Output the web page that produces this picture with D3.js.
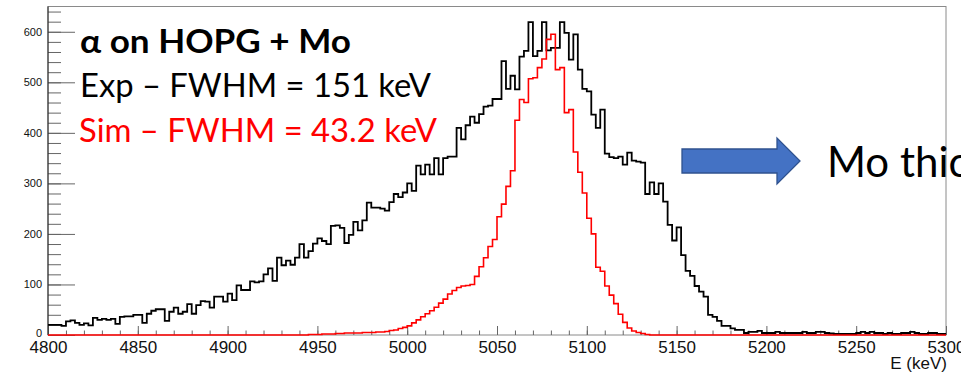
<!DOCTYPE html>
<html lang="en">
<head>
	<meta charset="UTF-8">
	<title>alpha on HOPG + Mo</title>
	<style>
		body { margin: 0; background: #fff; }
		svg { display: block; }
		.tick text { font-family: "Liberation Sans", Arial, sans-serif; fill: #111; }
	</style>
</head>
<body>

	<div id="viz-wrapper">
	</div>

	<script src="https://cdn.jsdelivr.net/npm/d3@7/dist/d3.min.js"></script>

	<script type="text/javascript">
    // histogram binning (keV)
    var eMin = 4800,
        eMax = 5300,
        binWidth = 2.5;

    // measured spectrum, counts per bin
    var expCounts = [
      20, 20, 20, 18, 27, 29, 24, 20, 23, 19,
      34, 30, 32, 30, 32, 22, 36, 37, 37, 40,
      40, 24, 42, 48, 51, 51, 28, 46, 54, 42,
      46, 61, 42, 59, 67, 66, 54, 76, 76, 66,
      82, 69, 98, 89, 89, 106, 104, 106, 120, 132,
      107, 153, 138, 147, 139, 153, 180, 153, 166, 181,
      191, 186, 180, 216, 217, 212, 182, 198, 224, 207,
      227, 262, 252, 252, 250, 246, 263, 279, 273, 282,
      300, 285, 335, 318, 337, 318, 350, 318, 350, 353,
      353, 410, 387, 415, 432, 420, 437, 452, 454, 467,
      467, 542, 487, 513, 486, 551, 562, 619, 552, 562,
      619, 563, 568, 568, 619, 598, 545, 595, 525, 487,
      482, 436, 410, 446, 359, 352, 350, 353, 337, 361,
      345, 343, 341, 279, 302, 279, 300, 264, 218, 187,
      213, 158, 127, 117, 97, 86, 76, 40, 36, 28,
      18, 18, 13, 10, 10, 4, 6, 6, 8, 4,
      4, 4, 6, 4, 4, 4, 4, 4, 6, 4,
      4, 6, 6, 4, 3, 2, 2, 2, 2, 2,
      4, 6, 4, 6, 4, 4, 2, 4, 2, 2,
      4, 4, 6, 4, 2, 2, 4, 4, 2, 2
    ];

    // simulated spectrum, counts per bin
    var simCounts = [
      0, 0, 0, 0, 0, 0, 0, 0, 0, 0,
      0, 0, 0, 0, 0, 0, 0, 0, 0, 0,
      0, 0, 0, 0, 0, 0, 0, 0, 0, 0,
      0, 0, 0, 0, 0, 0, 0, 0, 0, 0,
      0, 0, 0, 0, 0, 0, 0, 0, 0, 0,
      0, 0, 0, 0, 0, 0, 0, 0, 1, 1,
      1, 2, 2, 2, 3, 3, 4, 4, 4, 4,
      5, 5, 5, 6, 6, 7, 9, 10, 13, 15,
      18, 24, 30, 36, 42, 48, 55, 63, 71, 81,
      88, 94, 97, 98, 100, 116, 135, 153, 175, 189,
      234, 259, 294, 325, 425, 466, 460, 507, 509, 529,
      546, 585, 595, 525, 529, 440, 446, 362, 322, 281,
      231, 200, 134, 126, 97, 79, 62, 41, 25, 14,
      8, 5, 3, 1, 0, 0, 0, 0, 0, 0,
      0, 0, 0, 0, 0, 0, 0, 0, 0, 0,
      0, 0, 0, 0, 0, 0, 0, 0, 0, 0,
      0, 0, 0, 0, 0, 0, 0, 0, 0, 0,
      0, 0, 0, 0, 0, 0, 0, 0, 0, 0,
      0, 0, 0, 0, 0, 0, 0, 0, 0, 0,
      0, 0, 0, 0, 0, 0, 0, 0, 0, 0
    ];

    var xMajorTicks = [4800, 4850, 4900, 4950, 5000, 5050, 5100, 5150, 5200, 5250, 5300];
    var yMajorTicks = [0, 100, 200, 300, 400, 500, 600];

    // slide annotations laid over the plot
    var titleLine = "\u03b1 on HOPG + Mo";
    var expLine = "Exp \u2013 FWHM = 151 keV";
    var simLine = "Sim \u2013 FWHM = 43.2 keV";
    var sideNote = "Mo thic";

    var width = 961,
        height = 374;

    // plot frame in pixels
    var frame = {left: 48, right: 946, top: 6.5, bottom: 335};

    var svg = d3.select("#viz-wrapper")
                .append('svg')
                .attr('width', width)
                .attr('height', height);

    var x = d3.scaleLinear().domain([eMin, eMax]).range([frame.left, frame.right]);
    var y = d3.scaleLinear().domain([0, 650]).range([frame.bottom, frame.top]);

    // frame box
    svg.append('rect')
       .attr('x', frame.left)
       .attr('y', frame.top)
       .attr('width', frame.right - frame.left)
       .attr('height', frame.bottom - frame.top)
       .style('fill', 'none')
       .style('stroke', '#8a8a8a')
       .style('stroke-width', 1);

    // x axis: minor ticks every 10 keV, major every 50
    svg.append('g')
       .attr('transform', 'translate(0,' + frame.bottom + ')')
       .call(d3.axisBottom(x).tickValues(d3.range(eMin, eMax + 1, 10)).tickSize(-4.5).tickFormat(''));
    var xMajor = svg.append('g')
       .attr('transform', 'translate(0,' + frame.bottom + ')')
       .call(d3.axisBottom(x).tickValues(xMajorTicks).tickSize(-9).tickPadding(6).tickFormat(d3.format('d')));
    xMajor.selectAll('text').style('font-size', '17px');

    // y axis: minor ticks every 20, major every 100
    svg.append('g')
       .attr('transform', 'translate(' + frame.left + ',0)')
       .call(d3.axisLeft(y).tickValues(d3.range(0, 641, 20)).tickSize(-13).tickFormat(''));
    var yMajor = svg.append('g')
       .attr('transform', 'translate(' + frame.left + ',0)')
       .call(d3.axisLeft(y).tickValues(yMajorTicks).tickSize(-27).tickPadding(6));
    yMajor.selectAll('text').style('font-size', '11px');
    // the zero label sits a touch higher so it clears 4800
    yMajor.selectAll('text').filter(function(d) { return d === 0; }).attr('y', -2);

    svg.selectAll('.domain').remove();
    svg.selectAll('.tick line').style('stroke', '#666');

    // left axis line is darker than the rest of the frame
    svg.append('line')
       .attr('x1', frame.left).attr('x2', frame.left)
       .attr('y1', frame.top).attr('y2', frame.bottom)
       .style('stroke', '#222');

    // axis title
    svg.append('text')
       .attr('x', frame.right + 1)
       .attr('y', 369)
       .attr('text-anchor', 'end')
       .style('font-family', '"Liberation Sans", Arial, sans-serif')
       .style('font-size', '17px')
       .style('fill', '#111')
       .text('E (keV)');

    // step outline of a histogram
    var step = d3.line()
                 .x(function(d) { return x(d[0]); })
                 .y(function(d) { return y(d[1]); })
                 .curve(d3.curveStepAfter);

    function histPoints(counts) {
      var pts = counts.map(function(v, i) { return [eMin + i * binWidth, v]; });
      pts.push([eMax, counts[counts.length - 1]]);
      return pts;
    }

    svg.append('path')
       .attr('d', step(histPoints(expCounts)))
       .style('fill', 'none')
       .style('stroke', '#000')
       .style('stroke-width', 1.8);

    svg.append('path')
       .attr('d', step(histPoints(simCounts)))
       .style('fill', 'none')
       .style('stroke', '#ff0000')
       .style('stroke-width', 1.6);

    // text boxes from the slide
    var slideFont = 'Lato, "Open Sans", sans-serif';

    svg.append('text')
       .attr('x', 80).attr('y', 53)
       .attr('textLength', 271)
       .attr('lengthAdjust', 'spacingAndGlyphs')
       .style('font-family', slideFont)
       .style('font-weight', 'bold')
       .style('font-size', '32px')
       .style('fill', '#000')
       .text(titleLine);

    svg.append('text')
       .attr('x', 80).attr('y', 97)
       .attr('textLength', 351)
       .attr('lengthAdjust', 'spacingAndGlyphs')
       .style('font-family', slideFont)
       .style('font-size', '33px')
       .style('fill', '#000')
       .text(expLine);

    svg.append('text')
       .attr('x', 79).attr('y', 142)
       .attr('textLength', 358)
       .attr('lengthAdjust', 'spacingAndGlyphs')
       .style('font-family', slideFont)
       .style('font-size', '33px')
       .style('fill', '#ff0000')
       .text(simLine);

    // block arrow
    var arrow = [[682, 149], [777, 149], [777, 138], [800, 161], [777, 184], [777, 173], [682, 173]];
    svg.append('path')
       .attr('d', d3.line()(arrow) + 'Z')
       .style('fill', '#4472c4')
       .style('stroke', '#2f528f')
       .style('stroke-width', 1.3);

    svg.append('text')
       .attr('x', 827).attr('y', 177)
       .style('font-family', slideFont)
       .style('font-size', '42px')
       .style('fill', '#000')
       .text(sideNote);
 	</script>

</body>
</html>
